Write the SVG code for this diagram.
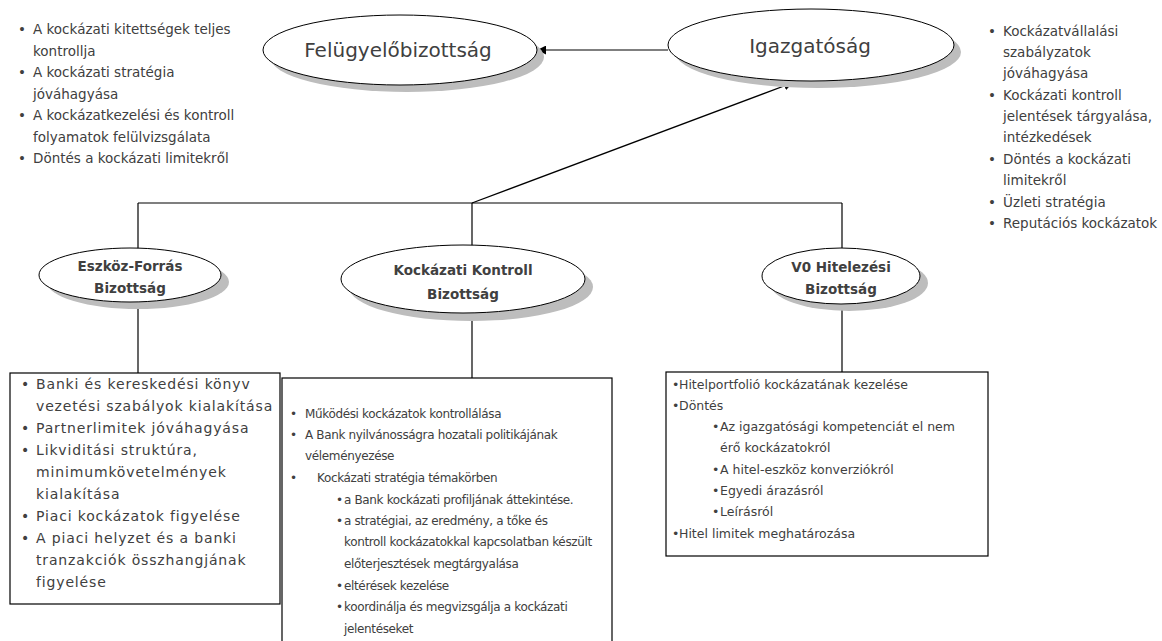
<svg xmlns="http://www.w3.org/2000/svg" width="1162" height="641" viewBox="0 0 1162 641">
<defs>
<marker id="arr" viewBox="0 0 10 10" refX="9" refY="5" markerWidth="9" markerHeight="9" markerUnits="userSpaceOnUse" orient="auto"><path d="M0,0 L10,5 L0,10 z" fill="#000"/></marker>
</defs>
<style>
.sh{fill:#bdbdbd;stroke:none}
.el{fill:#fff;stroke:#000;stroke-width:1}
.ln{stroke:#000;stroke-width:1.2;fill:none}
.box{fill:#fff;stroke:#000;stroke-width:1.2}
.t{font-family:"DejaVu Sans",Verdana,sans-serif;font-size:13.5px;fill:#404040}
.b1{font-family:"DejaVu Sans",Verdana,sans-serif;font-size:14px;letter-spacing:0.85px;fill:#404040}
.b2{font-family:"DejaVu Sans",Verdana,sans-serif;font-size:12px;letter-spacing:-0.35px;fill:#404040}
.b3{font-family:"DejaVu Sans",Verdana,sans-serif;font-size:12.5px;fill:#404040}
.h{font-family:"DejaVu Sans",Verdana,sans-serif;font-size:20px;fill:#404040;text-anchor:middle}
.hb{font-family:"DejaVu Sans",Verdana,sans-serif;font-size:13.5px;font-weight:bold;fill:#404040;text-anchor:middle}
</style>
<rect width="1162" height="641" fill="#fff"/>
<g id="connectors">
<line class="ln" x1="668" y1="50" x2="538" y2="50" marker-end="url(#arr)"/>
<line class="ln" x1="472" y1="203" x2="792" y2="83" marker-end="url(#arr)"/>
<line class="ln" x1="138" y1="203" x2="842" y2="203"/>
<line class="ln" x1="138" y1="203" x2="138" y2="250"/>
<line class="ln" x1="472" y1="203" x2="472" y2="246"/>
<line class="ln" x1="842" y1="203" x2="842" y2="248"/>
<line class="ln" x1="138" y1="300" x2="138" y2="374"/>
<line class="ln" x1="472" y1="312" x2="472" y2="378"/>
<line class="ln" x1="842" y1="304" x2="842" y2="373"/>
</g>
<g id="felugyelo">
<ellipse class="sh" cx="407" cy="57" rx="137" ry="35"/>
<ellipse class="el" cx="400" cy="50" rx="137" ry="35"/>
<text class="h" x="398" y="57">Felügyelőbizottság</text>
</g>
<g id="igazgatosag">
<ellipse class="sh" cx="818" cy="52" rx="143" ry="36"/>
<ellipse class="el" cx="811" cy="45" rx="143" ry="36"/>
<text class="h" x="810" y="53">Igazgatóság</text>
</g>
<g id="eszkoz">
<ellipse class="sh" cx="138" cy="282" rx="91" ry="27"/>
<ellipse class="el" cx="130" cy="275" rx="91" ry="27"/>
<text class="hb" x="130" y="271">Eszköz-Forrás</text>
<text class="hb" x="130" y="293">Bizottság</text>
</g>
<g id="kockazati">
<ellipse class="sh" cx="471" cy="287" rx="122" ry="34"/>
<ellipse class="el" cx="463" cy="279" rx="122" ry="34"/>
<text class="hb" x="463" y="275">Kockázati Kontroll</text>
<text class="hb" x="463" y="299">Bizottság</text>
</g>
<g id="v0">
<ellipse class="sh" cx="849" cy="283" rx="79" ry="28"/>
<ellipse class="el" cx="841" cy="276" rx="79" ry="28"/>
<text class="hb" x="841" y="272">V0 Hitelezési</text>
<text class="hb" x="841" y="294">Bizottság</text>
</g>
<g id="felugyelo-list" class="t">
<text x="18" y="34">•</text><text x="33" y="34">A kockázati kitettségek teljes</text>
<text x="33" y="55.5">kontrollja</text>
<text x="18" y="77">•</text><text x="33" y="77">A kockázati stratégia</text>
<text x="33" y="98.5">jóváhagyása</text>
<text x="18" y="120">•</text><text x="33" y="120">A kockázatkezelési és kontroll</text>
<text x="33" y="141.5">folyamatok felülvizsgálata</text>
<text x="18" y="163">•</text><text x="33" y="163">Döntés a kockázati limitekről</text>
</g>
<g id="igazgatosag-list" class="t">
<text x="988" y="36">•</text><text x="1003" y="36">Kockázatvállalási</text>
<text x="1003" y="57">szabályzatok</text>
<text x="1003" y="78">jóváhagyása</text>
<text x="988" y="100">•</text><text x="1003" y="100">Kockázati kontroll</text>
<text x="1003" y="121">jelentések tárgyalása,</text>
<text x="1003" y="142">intézkedések</text>
<text x="988" y="164">•</text><text x="1003" y="164">Döntés a kockázati</text>
<text x="1003" y="185">limitekről</text>
<text x="988" y="207">•</text><text x="1003" y="207">Üzleti stratégia</text>
<text x="988" y="228">•</text><text x="1003" y="228">Reputációs kockázatok</text>
</g>
<g id="box-eszkoz">
<rect class="box" x="10" y="373" width="270" height="231"/>
<g class="b1">
<text x="21" y="389">•</text><text x="36" y="389">Banki és kereskedési könyv</text>
<text x="36" y="411">vezetési szabályok kialakítása</text>
<text x="21" y="433">•</text><text x="36" y="433">Partnerlimitek jóváhagyása</text>
<text x="21" y="455">•</text><text x="36" y="455">Likviditási struktúra,</text>
<text x="36" y="477">minimumkövetelmények</text>
<text x="36" y="499">kialakítása</text>
<text x="21" y="521">•</text><text x="36" y="521">Piaci kockázatok figyelése</text>
<text x="21" y="543">•</text><text x="36" y="543">A piaci helyzet és a banki</text>
<text x="36" y="565">tranzakciók összhangjának</text>
<text x="36" y="587">figyelése</text>
</g>
</g>
<g id="box-kockazati">
<rect class="box" x="282" y="378" width="330" height="270"/>
<g class="b2">
<text x="290" y="418">•</text><text x="305" y="418">Működési kockázatok kontrollálása</text>
<text x="290" y="439">•</text><text x="305" y="439">A Bank nyilvánosságra hozatali politikájának</text>
<text x="305" y="460">véleményezése</text>
<text x="290" y="482">•</text><text x="317" y="482">Kockázati stratégia témakörben</text>
<text x="336" y="504">•</text><text x="344" y="504">a Bank kockázati profiljának áttekintése.</text>
<text x="336" y="525">•</text><text x="344" y="525">a stratégiai, az eredmény, a tőke és</text>
<text x="344" y="546">kontroll kockázatokkal kapcsolatban készült</text>
<text x="344" y="568">előterjesztések megtárgyalása</text>
<text x="336" y="590">•</text><text x="344" y="590">eltérések kezelése</text>
<text x="336" y="611">•</text><text x="344" y="611">koordinálja és megvizsgálja a kockázati</text>
<text x="344" y="633">jelentéseket</text>
</g>
</g>
<g id="box-v0">
<rect class="box" x="666" y="372" width="322" height="184"/>
<g class="b3">
<text x="672" y="389">•</text><text x="679" y="389">Hitelportfolió kockázatának kezelése</text>
<text x="672" y="410">•</text><text x="679" y="410">Döntés</text>
<text x="712" y="431">•</text><text x="720" y="431">Az igazgatósági kompetenciát el nem</text>
<text x="720" y="452">érő kockázatokról</text>
<text x="712" y="474">•</text><text x="720" y="474">A hitel-eszköz konverziókról</text>
<text x="712" y="495">•</text><text x="720" y="495">Egyedi árazásról</text>
<text x="712" y="516">•</text><text x="720" y="516">Leírásról</text>
<text x="672" y="538">•</text><text x="679" y="538">Hitel limitek meghatározása</text>
</g>
</g>
</svg>
